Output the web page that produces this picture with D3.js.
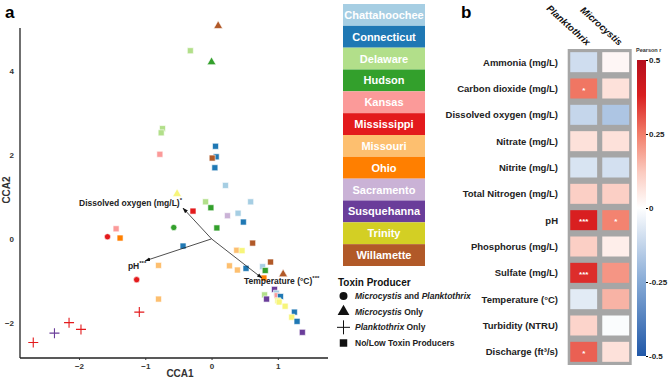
<!DOCTYPE html>
<html>
<head>
<meta charset="utf-8">
<script src="https://cdn.jsdelivr.net/npm/d3@7"></script>
<style>
  body { margin: 0; background: #fff; }
  svg { font-family: "Liberation Sans", Arial, sans-serif; }
  text { font-weight: bold; }
</style>
</head>
<body>
<svg width="669" height="380"></svg>
<script>
// ---- data ----
const rivers = ["Chattahoochee", "Connecticut", "Delaware", "Hudson", "Kansas", "Mississippi",
  "Missouri", "Ohio", "Sacramento", "Susquehanna", "Trinity", "Willamette"];
const riverColors = ["#a6cee3", "#1f78b4", "#b2df8a", "#33a02c", "#fb9a99", "#e31a1c",
  "#fdbf6f", "#ff7f00", "#cab2d6", "#6a3d9a", "#d3cf24", "#b15928"];
const pointColors = riverColors.slice();
pointColors[10] = "#f7f57a";  // trinity points are paler than the legend box

const producers = ["both", "micro", "plank", "none"];

// sites: river, toxin producer, CCA1, CCA2
const sites = [
  ["Willamette", "micro", 0.10, 5.06], ["Delaware", "none", -0.32, 4.47], ["Hudson", "micro", 0.00, 4.20],
  ["Delaware", "none", -0.74, 2.62], ["Delaware", "none", -0.76, 2.52], ["Kansas", "none", -0.78, 2.01],
  ["Connecticut", "none", 0.06, 2.20], ["Connecticut", "none", 0.07, 1.95], ["Willamette", "none", 0.01, 1.92],
  ["Connecticut", "none", 0.05, 1.69], ["Chattahoochee", "none", 0.21, 1.27], ["Trinity", "micro", -0.52, 1.07],
  ["Delaware", "none", -0.09, 0.88], ["Hudson", "none", -0.01, 0.74], ["Chattahoochee", "none", 0.59, 0.88],
  ["Mississippi", "none", -0.28, 0.66], ["Sacramento", "none", 0.24, 0.55], ["Chattahoochee", "none", 0.40, 0.61],
  ["Connecticut", "none", 0.48, 0.40], ["Hudson", "both", -0.57, 0.27], ["Hudson", "none", 0.08, 0.26],
  ["Kansas", "none", -1.44, 0.24], ["Mississippi", "both", -1.57, 0.05], ["Ohio", "none", -1.38, 0.02],
  ["Missouri", "none", -0.80, -0.63], ["Mississippi", "both", -1.13, -0.97], ["Missouri", "none", -0.80, -1.43],
  ["Mississippi", "plank", -1.09, -1.74], ["Mississippi", "plank", -2.15, -1.99], ["Mississippi", "plank", -1.97, -2.15],
  ["Susquehanna", "plank", -2.37, -2.24], ["Mississippi", "plank", -2.69, -2.46],
  ["Connecticut", "none", -0.43, -0.17], ["Willamette", "none", 0.62, -0.10], ["Missouri", "none", 0.38, -0.27],
  ["Trinity", "none", 0.46, -0.28], ["Willamette", "none", 0.89, -0.55], ["Missouri", "none", 0.27, -0.64],
  ["Missouri", "none", 0.39, -0.74], ["Connecticut", "none", 0.52, -0.70], ["Chattahoochee", "none", 0.77, -0.66],
  ["Hudson", "none", 0.81, -0.75], ["Willamette", "micro", 1.08, -0.84], ["Ohio", "none", 0.79, -0.93],
  ["Susquehanna", "none", 0.95, -1.20], ["Chattahoochee", "none", 0.98, -1.29], ["Kansas", "none", 0.99, -1.35],
  ["Connecticut", "none", 1.04, -1.37], ["Delaware", "none", 0.80, -1.33], ["Susquehanna", "none", 0.83, -1.43],
  ["Trinity", "none", 1.00, -1.47], ["Trinity", "none", 1.02, -1.50], ["Trinity", "none", 1.11, -1.60],
  ["Connecticut", "none", 1.25, -1.74], ["Trinity", "none", 1.21, -1.86], ["Connecticut", "none", 1.29, -1.96],
  ["Susquehanna", "none", 1.37, -2.22]
];

// environmental vectors: name, significance, CCA1, CCA2
const envVectors = [
  ["Dissolved oxygen (mg/L)", "*", -0.43, 0.73],
  ["pH", "***", -1.00, -0.52],
  ["Temperature (°C)", "***", 0.76, -0.93]
];

const xTicks = [-2, -1, 0, 1];
const yTicks = [-2, 0, 2, 4];

// heatmap
const variables = ["Ammonia (mg/L)", "Carbon dioxide (mg/L)", "Dissolved oxygen (mg/L)", "Nitrate (mg/L)",
  "Nitrite (mg/L)", "Total Nitrogen (mg/L)", "pH", "Phosphorus (mg/L)", "Sulfate (mg/L)",
  "Temperature (°C)", "Turbidity (NTRU)", "Discharge (ft³/s)"];
const genera = ["Planktothrix", "Microcystis"];
const planktothrixR = [-0.10, 0.26, -0.12, 0.07, -0.08, 0.11, 0.38, 0.11, 0.36, -0.06, 0.10, 0.29];
const microcystisR = [0.02, 0.07, -0.17, 0.07, -0.09, 0.11, 0.24, 0.04, 0.21, 0.16, -0.01, 0.07];
const planktothrixSig = ["", "*", "", "", "", "", "***", "", "***", "", "", "*"];
const microcystisSig = ["", "", "", "", "", "", "*", "", "", "", "", ""];
const scaleTicks = [0.5, 0.25, 0, -0.25, -0.5];

// ---- drawing ----
const svg = d3.select("svg");
const defs = svg.append("defs");

// panel a
const x = d3.scaleLinear().domain([-2.89, 1.757]).range([20, 328]);
const y = d3.scaleLinear().domain([-2.83, 5.01]).range([358, 28]);

svg.append("text").attr("x", 5).attr("y", 18).attr("font-size", 17).text("a");

const gx = svg.append("g").attr("transform", "translate(0,358)")
  .call(d3.axisBottom(x).tickValues(xTicks).tickSize(2).tickFormat(d3.format("d")));
const gy = svg.append("g").attr("transform", "translate(20,0)")
  .call(d3.axisLeft(y).tickValues(yTicks).tickSize(0).tickPadding(6).tickFormat(d3.format("d")));
gx.select(".domain").attr("d", "M20,0H328").attr("stroke", "#222").attr("stroke-width", 1.3);
gy.select(".domain").attr("d", "M0,28V358").attr("stroke", "#222").attr("stroke-width", 1.3);
[gx, gy].forEach(g => g.selectAll("text").attr("font-size", 8).attr("fill", "#333")
  .attr("font-family", "Liberation Sans, Arial, sans-serif").attr("font-weight", "bold"));
gx.selectAll(".tick line").attr("stroke", "#333");

svg.append("text").attr("x", 180).attr("y", 377).attr("text-anchor", "middle")
  .attr("font-size", 10).attr("fill", "#333").text("CCA1");
svg.append("text").attr("transform", "translate(10,190) rotate(-90)").attr("text-anchor", "middle")
  .attr("font-size", 10).attr("fill", "#333").text("CCA2");

// arrowhead
defs.append("marker").attr("id", "arr")
  .attr("viewBox", "0 0 10 10").attr("refX", 9).attr("refY", 5)
  .attr("markerWidth", 7).attr("markerHeight", 7).attr("orient", "auto-start-reverse")
  .append("path").attr("d", "M0,1.5L10,5L0,8.5Z").attr("fill", "#111");

const colorOf = r => pointColors[rivers.indexOf(r)];

const pts = svg.append("g");
sites.forEach(([river, prod, cx, cy]) => {
  const px = x(cx), py = y(cy), c = colorOf(river);
  if (prod === "plank") {
    pts.append("path").attr("d", `M${px - 5},${py}H${px + 5}M${px},${py - 5}V${py + 5}`)
      .attr("stroke", c).attr("stroke-width", 1.1).attr("fill", "none");
  } else {
    const type = prod === "both" ? d3.symbolCircle : prod === "micro" ? d3.symbolTriangle : d3.symbolSquare;
    const size = prod === "both" ? 30 : prod === "micro" ? 34 : 36;
    pts.append("path").attr("d", d3.symbol(type, size)())
      .attr("transform", `translate(${px},${py})`)
      .attr("fill", c).attr("stroke", "#fff").attr("stroke-width", 0.6);
  }
});

const vec = svg.append("g");
envVectors.forEach(([name, sig, vx, vy], i) => {
  vec.append("line").attr("x1", x(0)).attr("y1", y(0)).attr("x2", x(vx)).attr("y2", y(vy))
    .attr("stroke", "#222").attr("stroke-width", 0.8).attr("marker-end", "url(#arr)");
  let tx, ty, anchor;
  if (i === 0) { tx = x(vx) - 1; ty = y(vy) - 2; anchor = "end"; }
  else if (i === 1) { tx = x(vx) + 1; ty = y(vy) + 8; anchor = "end"; }
  else { tx = x(vx) - 18; ty = y(vy) + 6; anchor = "start"; }
  const t = vec.append("text").attr("x", tx).attr("y", ty).attr("text-anchor", anchor)
    .attr("font-size", 8.5).attr("fill", "#222");
  t.append("tspan").text(name);
  t.append("tspan").attr("dy", -4).attr("font-size", 6).text(sig);
});

// river legend
const leg = svg.append("g");
const lb = d3.scaleBand().domain(rivers).range([4, 266]);
rivers.forEach((r, i) => {
  leg.append("rect").attr("x", 343).attr("y", lb(r)).attr("width", 82).attr("height", lb.bandwidth())
    .attr("fill", riverColors[i]);
  leg.append("text").attr("x", 384).attr("y", lb(r) + lb.bandwidth() / 2 + 4)
    .attr("text-anchor", "middle").attr("font-size", 11).attr("fill", "#fff").text(r);
});

// toxin legend
const tl = svg.append("g");
tl.append("text").attr("x", 338).attr("y", 286).attr("font-size", 10).attr("fill", "#111").text("Toxin Producer");
const tlY = d3.scalePoint().domain(producers).range([296, 343]);
const tlLabels = [
  [["Microcystis", true], [" and ", false], ["Planktothrix", true]],
  [["Microcystis", true], [" Only", false]],
  [["Planktothrix", true], [" Only", false]],
  [["No/Low Toxin Producers", false]]
];
producers.forEach((p, i) => {
  const cy = tlY(p);
  if (p === "plank") {
    tl.append("path").attr("d", `M337,${cy}H350M343.5,${cy - 7}V${cy + 7}`).attr("stroke", "#111").attr("stroke-width", 1);
  } else {
    const type = p === "both" ? d3.symbolCircle : p === "micro" ? d3.symbolTriangle : d3.symbolSquare;
    const size = p === "both" ? 50 : p === "micro" ? 60 : 56;
    tl.append("path").attr("d", d3.symbol(type, size)()).attr("transform", `translate(343.5,${cy})`).attr("fill", "#111");
  }
  const t = tl.append("text").attr("x", 355).attr("y", cy + 3).attr("font-size", 8.5).attr("fill", "#222");
  tlLabels[i].forEach(([s, it]) => t.append("tspan").attr("font-style", it ? "italic" : "normal").text(s));
});

// panel b
svg.append("text").attr("x", 461).attr("y", 18).attr("font-size", 17).text("b");

const hy = d3.scaleBand().domain(variables).range([49, 365]).paddingInner(0.24).paddingOuter(0.12);
const hx = d3.scaleBand().domain(genera).range([567.7, 631.7]).paddingInner(0.16).paddingOuter(0.08);
const color = d3.scaleLinear()
  .domain([-0.5, -0.25, 0, 0.12, 0.25, 0.38, 0.5])
  .range(["#2158a8", "#86aad6", "#ffffff", "#fbcbc0", "#f27d69", "#d91f20", "#b50f1c"]);

svg.append("rect").attr("x", 567.7).attr("y", 49).attr("width", 64).attr("height", 316).attr("fill", "#a6a6a6");

const rVals = [planktothrixR, microcystisR];
const sVals = [planktothrixSig, microcystisSig];
genera.forEach((g, gi) => {
  variables.forEach((v, vi) => {
    svg.append("rect").attr("x", hx(g)).attr("y", hy(v)).attr("width", hx.bandwidth()).attr("height", hy.bandwidth())
      .attr("fill", color(rVals[gi][vi]));
    if (sVals[gi][vi]) {
      svg.append("text").attr("x", hx(g) + hx.bandwidth() / 2).attr("y", hy(v) + hy.bandwidth() / 2 + 4)
        .attr("text-anchor", "middle").attr("font-size", 8).attr("fill", "#fff").text(sVals[gi][vi]);
    }
  });
  svg.append("text").attr("transform", `translate(${hx(g) + hx.bandwidth() / 2 + 3},46) rotate(42)`)
    .attr("text-anchor", "end").attr("font-size", 9.5).attr("font-style", "italic").attr("fill", "#111").text(g);
});

variables.forEach(v => {
  svg.append("text").attr("x", 558).attr("y", hy(v) + hy.bandwidth() / 2 + 3.5)
    .attr("text-anchor", "end").attr("font-size", 9.5).attr("fill", "#222").text(v);
});

// colour bar
const cb = d3.scaleLinear().domain([-0.5, 0.5]).range([356, 60]);
const grad = defs.append("linearGradient").attr("id", "cbg")
  .attr("x1", 0).attr("y1", 1).attr("x2", 0).attr("y2", 0);
color.domain().forEach(v => grad.append("stop").attr("offset", v + 0.5).attr("stop-color", color(v)));
svg.append("rect").attr("x", 637).attr("y", 60).attr("width", 9).attr("height", 296).attr("fill", "url(#cbg)");
const gc = svg.append("g").attr("transform", "translate(646,0)")
  .call(d3.axisRight(cb).tickValues(scaleTicks).tickSize(2).tickPadding(1).tickFormat(d => d));
gc.select(".domain").remove();
gc.selectAll("text").attr("font-size", 8).attr("fill", "#222")
  .attr("font-family", "Liberation Sans, Arial, sans-serif").attr("font-weight", "bold");
svg.append("text").attr("x", 636).attr("y", 52).attr("font-size", 5.5).attr("fill", "#333").text("Pearson r");
</script>
</body>
</html>
